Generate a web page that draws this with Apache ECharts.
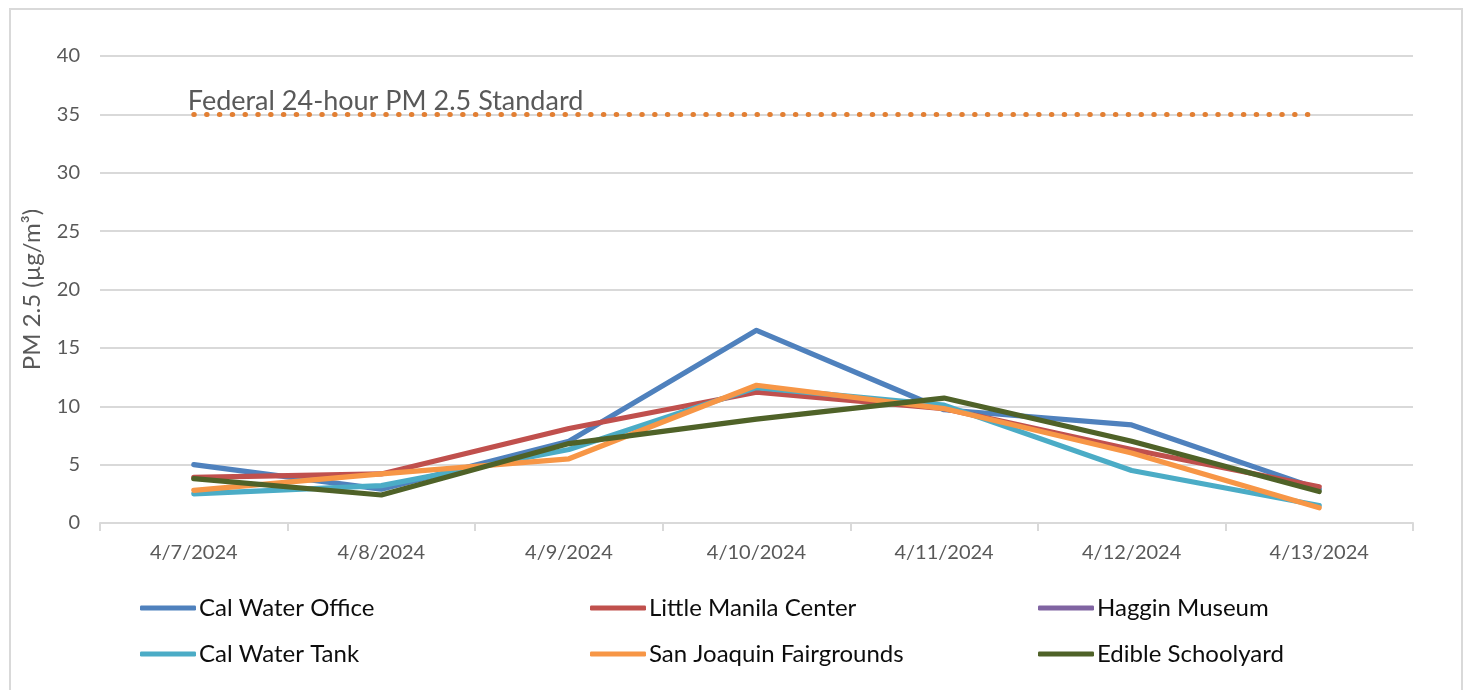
<!DOCTYPE html>
<html>
<head>
<meta charset="utf-8">
<script src="https://cdn.jsdelivr.net/npm/echarts@6/dist/echarts.min.js"></script>
<style>
html,body{margin:0;padding:0;background:#fff;}
#chart{width:1465px;height:690px;}
</style>
</head>
<body>
<div id="chart"></div>
<script>
const categories = ['4/7/2024','4/8/2024','4/9/2024','4/10/2024','4/11/2024','4/12/2024','4/13/2024'];
const calWaterOffice = [5.0, 2.9, 7.0, 16.5, 9.7, 8.4, 2.9];
const littleManilaCenter = [3.9, 4.2, 8.1, 11.2, 9.8, 6.3, 3.1];
const hagginMuseum = [null, null, null, null, null, null, null];
const calWaterTank = [2.5, 3.2, 6.3, 11.6, 10.1, 4.5, 1.5];
const sanJoaquinFairgrounds = [2.8, 4.2, 5.5, 11.8, 9.8, 6.0, 1.3];
const edibleSchoolyard = [3.8, 2.4, 6.8, 8.9, 10.7, 7.0, 2.7];
const federalStandard = [35, 35, 35, 35, 35, 35, 35];
const standardLabel = 'Federal 24-hour PM 2.5 Standard';
const yTicks = [0, 5, 10, 15, 20, 25, 30, 35, 40];

const FONT = 'Lato';
const seriesDefs = [
  {name: 'Cal Water Office', data: calWaterOffice, color: '#4F81BD'},
  {name: 'Little Manila Center', data: littleManilaCenter, color: '#C0504D'},
  {name: 'Haggin Museum', data: hagginMuseum, color: '#8064A2'},
  {name: 'Cal Water Tank', data: calWaterTank, color: '#4BACC6'},
  {name: 'San Joaquin Fairgrounds', data: sanJoaquinFairgrounds, color: '#F79646'},
  {name: 'Edible Schoolyard', data: edibleSchoolyard, color: '#4F6228'}
];
const legendPos = [
  {left: 140, top: 593}, {left: 590, top: 593}, {left: 1038, top: 593},
  {left: 140, top: 639}, {left: 590, top: 639}, {left: 1038, top: 639}
];

const chart = echarts.init(document.getElementById('chart'), null, {renderer: 'canvas'});
const series = seriesDefs.map(s => ({
  name: s.name, type: 'line', data: s.data, symbol: 'none', smooth: false,
  lineStyle: {color: s.color, width: 5.2, cap: 'round', join: 'round'},
  itemStyle: {color: s.color}, connectNulls: false, z: 3
}));
series.push({
  name: 'Federal Standard', type: 'line', z: 2,
  symbol: 'circle', symbolSize: 1, showSymbol: true,
  data: federalStandard.map((v, i) => i === 0 ? {value: v, label: {show: true}} : v),
  lineStyle: {color: '#E27F33', width: 5, type: [0.5, 12.3], cap: 'round'},
  itemStyle: {color: 'rgba(0,0,0,0)'},
  label: {show: false, position: 'top', align: 'left', offset: [-6, 5], distance: 4,
    formatter: () => standardLabel, color: '#595959', fontFamily: FONT, fontSize: 27}
});

const legends = seriesDefs.map((s, i) => ({
  data: [{name: s.name, icon: 'roundRect'}],
  left: legendPos[i].left, top: legendPos[i].top, padding: 0,
  itemWidth: 56, itemHeight: 5, itemGap: 0,
  textStyle: {color: '#0d0d0d', fontFamily: FONT, fontSize: 24, lineHeight: 30, padding: [0, 0, 0, -2]},
  selectedMode: false
}));

chart.setOption({
  animation: false,
  backgroundColor: '#fff',
  textStyle: {fontFamily: FONT},
  graphic: [{type: 'rect', shape: {x: 10, y: 9, width: 1452, height: 720},
    style: {fill: 'none', stroke: '#d9d9d9', lineWidth: 2}, silent: true}],
  grid: {left: 100, right: 52, top: 56, bottom: 167, containLabel: false},
  legend: legends,
  xAxis: {
    type: 'category', data: categories, boundaryGap: true,
    axisLine: {show: true, lineStyle: {color: '#d9d9d9', width: 2}},
    axisTick: {show: true, length: 8, interval: 0, lineStyle: {color: '#d9d9d9', width: 2}},
    axisLabel: {color: '#595959', fontFamily: FONT, fontSize: 20, margin: 20, interval: 0}
  },
  yAxis: {
    type: 'value', min: yTicks[0], max: yTicks[yTicks.length - 1], interval: 5,
    name: 'PM 2.5 (µg/m³)', nameLocation: 'middle', nameGap: 56, nameRotate: 90,
    nameTextStyle: {color: '#595959', fontFamily: FONT, fontSize: 24},
    axisLine: {show: false}, axisTick: {show: false},
    axisLabel: {color: '#595959', fontFamily: FONT, fontSize: 20, margin: 20},
    splitLine: {lineStyle: {color: '#d9d9d9', width: 2}}
  },
  series: series
});
</script>
</body>
</html>
